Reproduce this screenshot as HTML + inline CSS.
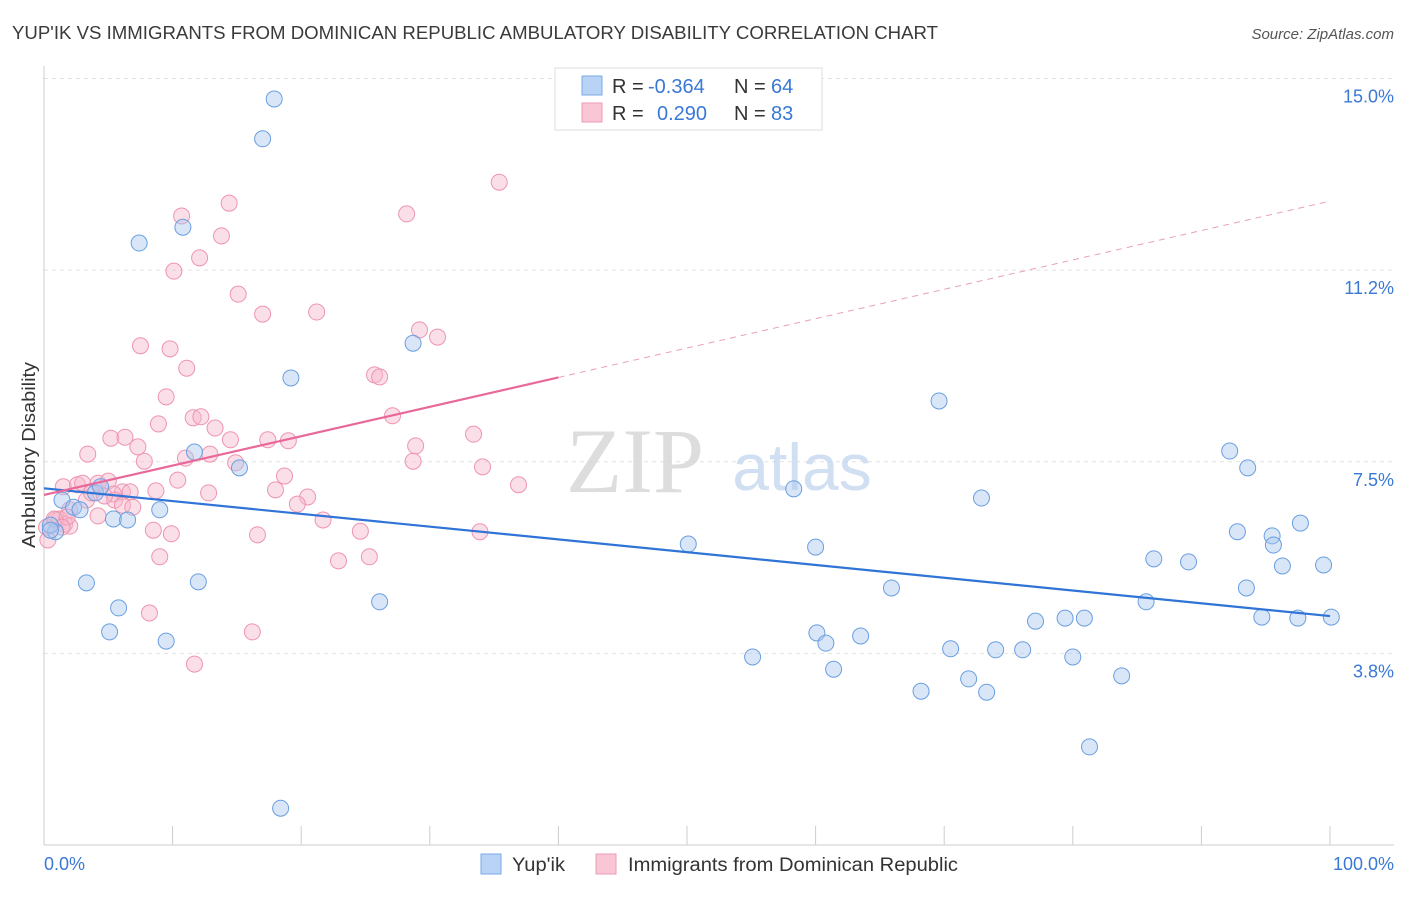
<!DOCTYPE html>
<html><head><meta charset="utf-8"><style>
body{margin:0;background:#fff;font-family:"Liberation Sans",sans-serif;}
</style></head><body>
<svg id="chart" width="1406" height="892" viewBox="0 0 1406 892" xmlns="http://www.w3.org/2000/svg">
<text x="12" y="39" font-size="18.5" fill="#3a3a3a" textLength="926" lengthAdjust="spacingAndGlyphs">YUP'IK VS IMMIGRANTS FROM DOMINICAN REPUBLIC AMBULATORY DISABILITY CORRELATION CHART</text>
<text x="1394" y="39" font-size="15" fill="#555" text-anchor="end" font-style="italic">Source: ZipAtlas.com</text>
<g id="grid"></g>
<g>
<text x="635" y="492" font-size="92" fill="#d5d5d5" font-family="Liberation Serif,serif" text-anchor="middle" opacity="0.8">ZIP</text>
<text x="802" y="490" font-size="66" fill="#c5d8f0" text-anchor="middle" opacity="0.8">atlas</text>
</g>
<line x1="44" y1="66" x2="44" y2="845" stroke="#ccc"/>
<line x1="44" y1="845" x2="1394" y2="845" stroke="#ccc"/>
<g id="xticks"></g>
<g id="ylabels"></g>
<text transform="translate(35,455) rotate(-90)" font-size="18" fill="#333" text-anchor="middle" textLength="186" lengthAdjust="spacingAndGlyphs">Ambulatory Disability</text>
<text x="44" y="870" font-size="18" fill="#3a78d6">0.0%</text>
<text x="1394" y="870" font-size="18" fill="#3a78d6" text-anchor="end">100.0%</text>
<g id="pinkpts"></g>
<g id="bluepts"></g>
<g id="trends"></g>
<g>
<rect x="555" y="68" width="267" height="62" fill="#fff" stroke="#ddd"/>
<rect x="582" y="76" width="20" height="19" fill="#b8d3f5" stroke="#7aa8e6"/>
<rect x="582" y="103" width="20" height="19" fill="#f9c6d6" stroke="#ee9ab5"/>
<text y="93" font-size="20" fill="#333"><tspan x="612">R =</tspan><tspan x="648" fill="#3a78d6">-0.364</tspan><tspan x="734">N =</tspan><tspan x="771" fill="#3a78d6">64</tspan></text>
<text y="120" font-size="20" fill="#333"><tspan x="612">R =</tspan><tspan x="657" fill="#3a78d6">0.290</tspan><tspan x="734">N =</tspan><tspan x="771" fill="#3a78d6">83</tspan></text>
</g>
<g>
<rect x="481" y="854" width="20" height="20" fill="#b8d3f5" stroke="#7aa8e6"/>
<text x="512" y="871" font-size="19" fill="#333" textLength="53" lengthAdjust="spacingAndGlyphs">Yup'ik</text>
<rect x="596" y="854" width="20" height="20" fill="#f9c6d6" stroke="#ee9ab5"/>
<text x="628" y="871" font-size="19" fill="#333" textLength="330" lengthAdjust="spacingAndGlyphs">Immigrants from Dominican Republic</text>
</g>
</svg>
<script>
const yTicks=[3.75,7.5,11.25,15];
const yTickLabels=["3.8%","7.5%","11.2%","15.0%"];
const xTicks=[0,10,20,30,40,50,60,70,80,90,100];
const bluePx=[[274,99],[262,139],[139,243],[183,227],[413,343],[291,378],[194,452],[239,468],[939,401],[1230,451],[1248,468],[794,489],[982,498],[62,500],[74,507],[80,510],[95,493],[100,487],[113,519],[127,520],[160,510],[55,532],[50,525],[688,544],[815,547],[1238,532],[1301,523],[1272,536],[1274,545],[1154,559],[1189,562],[1282,566],[1323,565],[86,583],[198,582],[891,588],[1247,588],[119,608],[380,602],[1146,602],[110,632],[166,641],[817,633],[826,643],[860,636],[1036,621],[1065,618],[1084,618],[1262,617],[1298,618],[1331,617],[753,657],[950,649],[995,650],[1023,650],[1073,657],[834,669],[969,679],[921,691],[986,692],[1122,676],[1090,747],[280,808],[50,530]];
const pinkPx=[[499,182],[181,216],[229,203],[407,214],[222,236],[174,271],[199,258],[238,294],[262,314],[317,312],[141,346],[170,349],[419,330],[437,337],[187,368],[375,375],[380,377],[166,397],[158,424],[193,418],[201,417],[393,416],[215,428],[111,438],[125,437],[138,447],[230,440],[268,440],[288,441],[416,446],[474,434],[88,454],[144,461],[186,458],[210,454],[236,463],[413,461],[483,467],[178,480],[285,476],[518,485],[63,487],[78,485],[83,483],[98,483],[108,481],[122,492],[156,491],[113,494],[130,492],[209,493],[275,490],[308,497],[297,504],[115,500],[123,505],[133,507],[70,510],[98,516],[60,519],[64,524],[70,526],[55,520],[47,527],[323,520],[153,530],[171,534],[258,535],[360,531],[480,532],[160,557],[339,561],[370,557],[149,613],[252,632],[195,664],[54,519],[48,540],[67,517],[86,500],[92,493],[104,496],[62,527]];
const blueX=bluePx.map(p=>+((p[0]-44)/12.86).toFixed(1));
const blueY=bluePx.map(p=>+((845-p[1])/51.1).toFixed(2));
const pinkX=pinkPx.map(p=>+((p[0]-44)/12.86).toFixed(1));
const pinkY=pinkPx.map(p=>+((845-p[1])/51.1).toFixed(2));
const blueTrend=[6.98,4.48];
const pinkTrend=[6.85,12.6];
const X=v=>44+v*12.86, Y=v=>845-v*51.1;
const NS="http://www.w3.org/2000/svg";
function mk(t,a,p){const e=document.createElementNS(NS,t);for(const k in a)e.setAttribute(k,a[k]);p.appendChild(e);return e;}
const grid=document.getElementById('grid'),yl=document.getElementById('ylabels'),xt=document.getElementById('xticks');
yTicks.forEach((v,i)=>{const l=mk('line',{x1:44,x2:1394,y1:Y(v),y2:Y(v),stroke:'#e2e2e2','stroke-dasharray':'4,4'},grid);


const t=mk('text',{x:1394,y:Y(v)+24,'font-size':18,fill:'#3a78d6','text-anchor':'end'},yl);t.textContent=yTickLabels[i];

});
xTicks.forEach(v=>{const l=mk('line',{x1:X(v),x2:X(v),y1:826,y2:845,stroke:'#ccc'},xt);

});
const bp=document.getElementById('bluepts'),pp=document.getElementById('pinkpts');
pinkX.forEach((x,i)=>{const c=mk('circle',{cx:X(x),cy:Y(pinkY[i]),r:8,fill:'#f7b9cc','fill-opacity':0.45,stroke:'#ee94b0','stroke-width':1},pp);

});
blueX.forEach((x,i)=>{const c=mk('circle',{cx:X(x),cy:Y(blueY[i]),r:8,fill:'#a9c8f0','fill-opacity':0.45,stroke:'#6a9fe0','stroke-width':1},bp);

});
const tr=document.getElementById('trends');
let l=mk('line',{x1:X(0),y1:Y(blueTrend[0]),x2:X(100),y2:Y(blueTrend[1]),stroke:'#2f74d6','stroke-width':2.2},tr);


const pyAt=v=>pinkTrend[0]+(pinkTrend[1]-pinkTrend[0])*v/100;
l=mk('line',{x1:X(0),y1:Y(pyAt(0)),x2:X(40),y2:Y(pyAt(40)),stroke:'#e8689a','stroke-width':2.2},tr);


l=mk('line',{x1:X(40),y1:Y(pyAt(40)),x2:X(100),y2:Y(pyAt(100)),stroke:'#e8a0b8','stroke-width':1,'stroke-dasharray':'6,5'},tr);


</script>
</body></html>
